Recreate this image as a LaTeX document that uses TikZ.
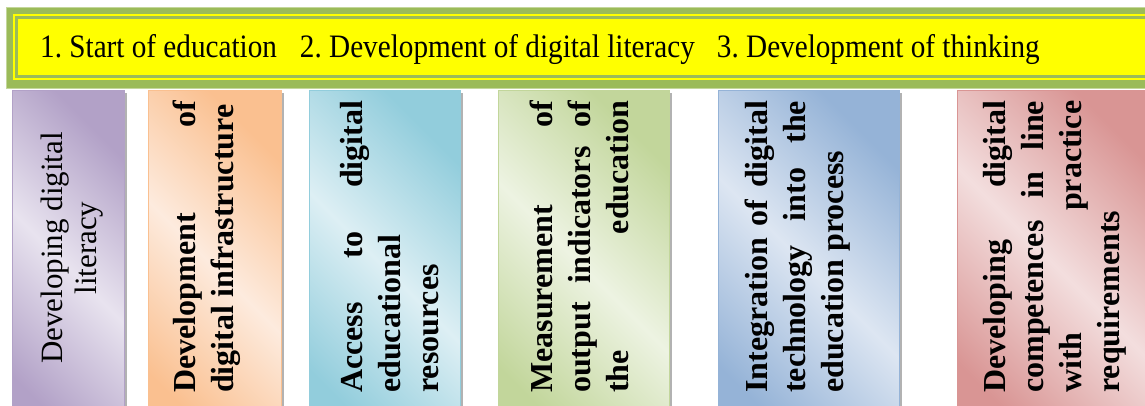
\documentclass[tikz,border=0pt]{standalone}
\usepackage{fontspec}
\usepackage{graphicx}
\setmainfont{Liberation Serif}
\usetikzlibrary{shadows}
\definecolor{bgreen}{HTML}{9BBB59}
\definecolor{bgreenedge}{HTML}{C4D79B}
\definecolor{byellow}{HTML}{FFFF00}
\definecolor{pdark}{HTML}{B2A1C7}\definecolor{plight}{HTML}{E8E3EF}
\definecolor{odark}{HTML}{FAC090}\definecolor{olight}{HTML}{FDEBDE}
\definecolor{cdark}{HTML}{92CDDC}\definecolor{clight}{HTML}{DDEFF4}
\definecolor{gdark}{HTML}{C2D69B}\definecolor{glight}{HTML}{EDF3E2}
\definecolor{bdark}{HTML}{95B3D7}\definecolor{blight}{HTML}{DDE6F2}
\definecolor{rdark}{HTML}{D99594}\definecolor{rlight}{HTML}{F3DEDE}
\tikzset{
  panel/.style 2 args={draw=#1, line width=0.8pt, left color=#1, right color=#1,
    middle color=#2, shading angle=135, anchor=north west, inner sep=0pt,
    minimum height=355pt,
    drop shadow={shadow xshift=2.5pt, shadow yshift=-2.5pt, fill=black, opacity=0.3}},
  vtext/.style={rotate=90, anchor=north west, inner sep=0pt, text width=292pt,
    align=justify, font=\fontsize{32}{38}\selectfont\bfseries},
}
\begin{document}
\begin{tikzpicture}[x=1pt,y=1pt]
\useasboundingbox (0,0) rectangle (1145,405);
\clip (0,0) rectangle (1145,405);
% banner
\fill[bgreen, draw=bgreenedge] (6,317) rectangle (1160,398);
\fill[byellow] (13,324.5) rectangle (1160,391);
\fill[bgreen] (15,326.5) rectangle (1160,389);
\fill[byellow] (18,329.5) rectangle (1160,386);
\node[anchor=base west, inner sep=0pt, font=\fontsize{29.2}{34}\selectfont] (title) at (40,347)
  {\scalebox{1}[1.12]{\frenchspacing 1. Start of education\hspace{23pt}2. Development of digital literacy\hspace{22pt}3. Development of thinking}};
% panels
\node[panel={pdark}{plight}, minimum width=112pt] (b1) at (12,315) {};
\node[panel={odark}{olight}, minimum width=133pt] (b2) at (148,315) {};
\node[panel={cdark}{clight}, minimum width=151pt] (b3) at (309,315) {};
\node[panel={gdark}{glight}, minimum width=171pt] (b4) at (498,315) {};
\node[panel={bdark}{blight}, minimum width=181pt] (b5) at (718,315) {};
\node[panel={rdark}{rlight}, minimum width=200pt] (b6) at (957,315) {};
% texts
\node[rotate=90, align=center, inner sep=0pt, font=\fontsize{31}{34}\selectfont] (t1) at (72,157)
  {Developing digital\\literacy};
\node[vtext] (t2) at (168.4,12) {\strut\hyphenpenalty=10000 Development of\linebreak digital infrastructure};
\node[vtext] (t3) at (335.4,12) {\strut\hyphenpenalty=10000 Access to digital\linebreak educational\linebreak resources};
\node[vtext] (t4) at (525.4,12) {\strut\hyphenpenalty=10000 Measurement of\linebreak output indicators of\linebreak the\hfill education};
\node[vtext] (t5) at (740.4,12) {\strut\hyphenpenalty=10000 Integration of digital\linebreak technology into the\linebreak education process};
\node[vtext] (t6) at (978.4,12) {\strut\hyphenpenalty=10000 Developing digital\linebreak competences in line\linebreak with practice\linebreak requirements};
\end{tikzpicture}
\end{document}
